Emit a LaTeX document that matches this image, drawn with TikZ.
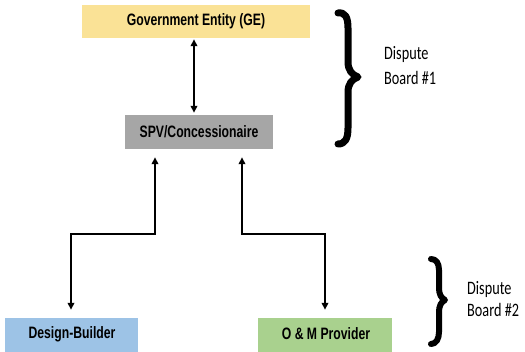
\documentclass[tikz,border=0pt]{standalone}
\usepackage{fontspec}
\setmainfont{Liberation Sans}
\newfontfamily\boxfont[FakeStretch=0.74]{Liberation Sans}
\newfontfamily\notefont[FakeStretch=0.75]{Carlito}
\usetikzlibrary{arrows.meta}
\definecolor{geYellow}{RGB}{250,226,150}
\definecolor{spvGray}{RGB}{166,166,166}
\definecolor{dbBlue}{RGB}{157,195,230}
\definecolor{omGreen}{RGB}{169,209,142}
\tikzset{
  party/.style={rectangle, inner sep=0pt, font=\boxfont\bfseries\fontsize{16.5}{19}\selectfont},
  link2/.style={line width=2pt, {Triangle[length=7pt,width=6.5pt]}-{Triangle[length=7pt,width=6.5pt]}},
  bracepath/.style={line cap=round, line join=round},
  note/.style={anchor=west, align=left, inner sep=0pt}
}
\begin{document}
\begin{tikzpicture}[x=1pt, y=-1pt]
\useasboundingbox (0,0) rectangle (525,351);

% parties
\node[party, fill=geYellow, minimum width=228pt, minimum height=33pt] (GE) at (196,21.5) {Government Entity (GE)};
\node[party, fill=spvGray, minimum width=148pt, minimum height=34pt] (SPV) at (199,132) {SPV/Concessionaire};
\node[party, fill=dbBlue, minimum width=133pt, minimum height=34pt] (DB) at (71.5,335) {};
\node[party, fill=omGreen, minimum width=134pt, minimum height=34pt] (OM) at (325,335) {};
\node[party] (DBtext) at (72,334) {Design-Builder};
\node[party] (OMtext) at (326,334) {O \& M Provider};

% GE -- SPV
\draw[link2, shorten <=1pt, shorten >=2pt] (GE.south -| 194,0) -- (SPV.north -| 194,0);

% SPV -- Design-Builder
\coordinate (l1) at (155,234);
\coordinate (l2) at (71,234);
\draw[link2, shorten <=8pt, shorten >=8pt, line join=miter] (SPV.south -| 155,0) -- (l1) -- (l2) -- (DB.north -| 71,0);

% SPV -- O&M Provider
\coordinate (r1) at (242,234);
\coordinate (r2) at (325,234);
\draw[link2, shorten <=8pt, shorten >=8pt, line join=miter] (SPV.south -| 242,0) -- (r1) -- (r2) -- (OM.north -| 325,0);

% dispute board braces
\draw[bracepath, line width=7pt] (338,13) .. controls (345,12) and (348,17) .. (348,28) -- (348,62)
  .. controls (348,70) and (352,75) .. (358,77)
  .. controls (352,79) and (348,84) .. (348,92) -- (348,128)
  .. controls (348,139) and (345,144) .. (338,144);

\draw[bracepath, line width=6pt] (431,259) .. controls (436,259) and (439,263) .. (439,270) -- (439,288)
  .. controls (439,294) and (441,298) .. (445,300)
  .. controls (441,302) and (439,306) .. (439,312) -- (439,332)
  .. controls (439,339) and (436,344) .. (431,344);

\node[note, font=\notefont\fontsize{19}{25}\selectfont] (DB1) at (384,66) {Dispute\\Board \#1};
\node[note, font=\notefont\fontsize{19}{22}\selectfont] (DB2) at (467,299) {Dispute\\Board \#2};
\end{tikzpicture}
\end{document}
